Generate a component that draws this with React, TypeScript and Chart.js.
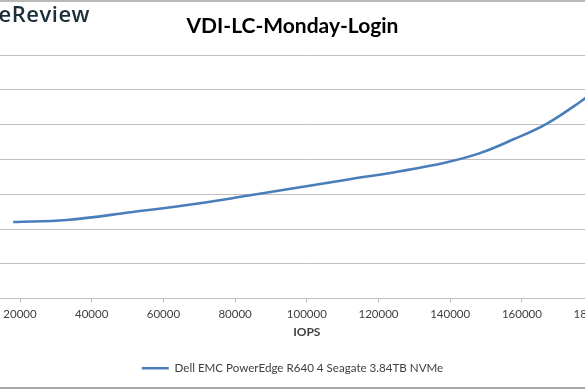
import React, { useEffect, useRef } from "react";
import { Chart, registerables } from "chart.js";

Chart.register(...registerables);

const chartTitle = "VDI-LC-Monday-Login";
const xAxisTitle = "IOPS";
const seriesName = "Dell EMC PowerEdge R640 4 Seagate 3.84TB NVMe";
const logoText = "StorageReview";

// IOPS (x) and average latency (y)
const iops = [18100, 33000, 51500, 70200, 84200, 98100, 112000, 126000, 139100, 148300, 157500, 167000, 176200, 184000];
const latency = [2.2, 2.26, 2.49, 2.74, 2.97, 3.2, 3.43, 3.66, 3.92, 4.18, 4.57, 5.03, 5.65, 6.25];

const xMin = 0;
const xMax = 200000;
const xStep = 20000;
const yMin = 0;
const yMax = 7;
const yStep = 1;

const OFFSET = 150; // canvas extends beyond the visible window on both sides
const CW = 585 + 2 * OFFSET;
const CH = 390;
const SIDE_PAD = CW - (OFFSET + 665.3);

export default function App() {
  const ref = useRef<HTMLCanvasElement | null>(null);

  useEffect(() => {
    if (!ref.current) return;
    const points = iops.map((x, i) => ({ x, y: latency[i] }));
    const chart = new Chart(ref.current, {
      type: "line",
      data: {
        datasets: [
          {
            label: seriesName,
            data: points,
            borderColor: "#4a7ebb",
            backgroundColor: "#4a7ebb",
            borderWidth: 2.6,
            pointRadius: 0,
            tension: 0.4,
            fill: false,
          },
        ],
      },
      options: {
        animation: false,
        responsive: false,
        devicePixelRatio: 1,
        layout: { padding: { left: SIDE_PAD, right: SIDE_PAD, top: 0, bottom: 6 } },
        plugins: {
          title: {
            display: true,
            text: chartTitle,
            color: "#000000",
            font: { family: "Lato", size: 21, weight: "bold" },
            padding: { top: 14, bottom: 15.8 },
          },
          legend: {
            display: true,
            position: "bottom",
            labels: {
              usePointStyle: true,
              pointStyle: "line",
              pointStyleWidth: 27,
              color: "#404040",
              font: { family: "Lato", size: 11.6 },
              padding: 10,
            },
          },
          tooltip: { enabled: false },
        },
        scales: {
          x: {
            type: "linear",
            min: xMin,
            max: xMax,
            ticks: {
              stepSize: xStep,
              color: "#404040",
              font: { family: "Lato", size: 11.5 },
              padding: 5,
              maxRotation: 0,
              callback: (v: any) => String(v),
            },
            grid: {
              drawOnChartArea: false,
              drawTicks: true,
              tickLength: 4,
              color: "#bfbfbf",
            },
            border: { display: true, color: "#bfbfbf", width: 1 },
            title: {
              display: true,
              text: xAxisTitle,
              color: "#404040",
              font: { family: "Lato", size: 12, weight: "bold", lineHeight: 1.0 },
              padding: { top: 0, bottom: 14 },
            },
          },
          y: {
            min: yMin,
            max: yMax,
            ticks: { stepSize: yStep, display: false },
            grid: { color: "#c0c0c0", drawTicks: false, lineWidth: 1 },
            border: { display: false },
            afterFit: (scale: any) => {
              scale.width = OFFSET - 51.7 - SIDE_PAD;
            },
          },
        },
      },
    });
    return () => chart.destroy();
  }, []);

  return (
    <div
      style={{
        position: "absolute",
        left: 0,
        top: 0,
        width: 585,
        height: 390,
        overflow: "hidden",
        background: "#ffffff",
      }}
    >
      <div style={{ position: "absolute", left: -OFFSET, top: 0, width: CW, height: CH }}>
        <canvas ref={ref} width={CW} height={CH} style={{ width: CW, height: CH, display: "block" }} />
      </div>
      <div
        style={{
          position: "absolute",
          right: 585 - 90,
          top: 0,
          whiteSpace: "nowrap",
          fontFamily: "Open Sans",
          fontWeight: 600,
          fontSize: 22,
          lineHeight: "26px",
          color: "#1b2f3b",
          letterSpacing: 0.5,
        }}
      >
        {logoText}
      </div>
      <div style={{ position: "absolute", left: 0, top: 0, width: 585, height: 2, background: "#b8b8b8" }} />
      <div style={{ position: "absolute", left: 0, top: 387, width: 585, height: 2, background: "#a8a8a8" }} />
    </div>
  );
}
